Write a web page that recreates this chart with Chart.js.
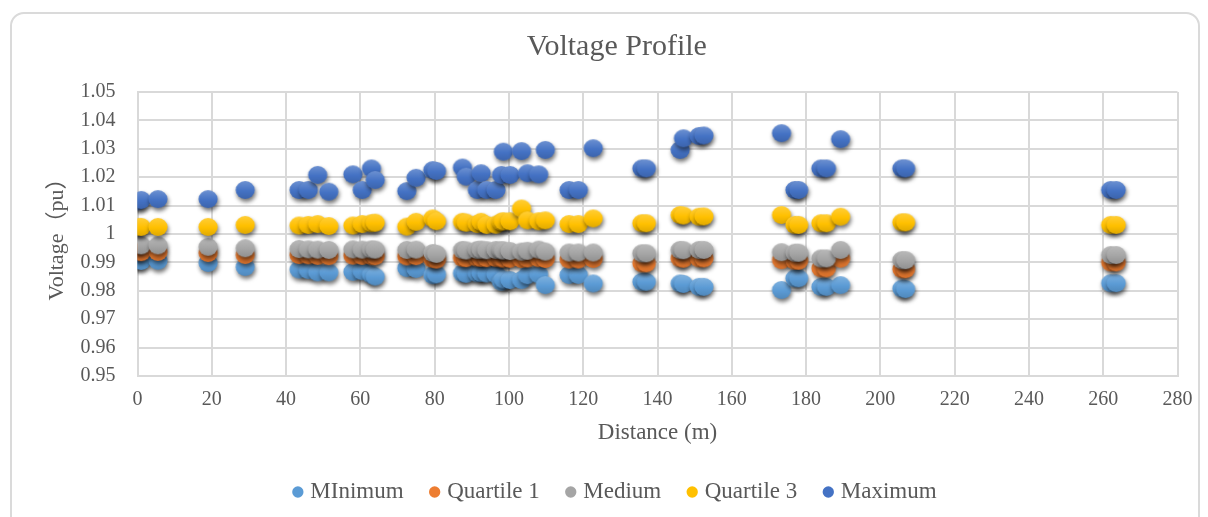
<!DOCTYPE html>
<html>
<head>
<meta charset="utf-8">
<script src="https://cdn.jsdelivr.net/npm/chart.js@4.4.1/dist/chart.umd.min.js"></script>
<style>
  html, body { margin: 0; padding: 0; background: #ffffff; width: 1208px; height: 517px; overflow: hidden; }
  #frame { position: absolute; left: 10px; top: 12px; width: 1190px; height: 540px; border: 2px solid #dadada; border-radius: 14px; box-sizing: border-box; }
  #wrap { position: absolute; left: 0; top: 0; width: 1208px; height: 517px; }
</style>
</head>
<body>
<div id="frame"></div>
<div id="wrap"><canvas id="chart" width="1208" height="517"></canvas></div>
<script>
// Bus distances from the feeder head (m)
const distance = [0, 1, 5.5, 19, 29, 43.5, 46, 48.5, 51.5, 58, 60.5, 63, 64, 72.5, 75, 79.5, 80.5,
  87.5, 88.5, 91.5, 92.5, 94, 96.5, 98, 98.5, 100.3, 103.4, 105, 108, 109.8, 116.2, 118.7, 122.7,
  135.8, 137, 146.1, 147, 151.2, 152.5, 173.4, 177, 178, 184, 185.5, 189.3, 205.8, 206.8, 262, 263.5];

// Voltage statistics per bus (pu)
const minimum = [0.9908, 0.9905, 0.9906, 0.9898, 0.9884, 0.9875, 0.9873, 0.9865, 0.9865, 0.9867, 0.9869, 0.9857, 0.985,
  0.988, 0.9877, 0.9855, 0.9858, 0.9862, 0.986, 0.9862, 0.9863, 0.9861, 0.9858, 0.9832, 0.984, 0.9838, 0.9838,
  0.9855, 0.9858, 0.982, 0.9856, 0.9856, 0.9826, 0.9832, 0.9832, 0.9826, 0.9824, 0.9814, 0.9814, 0.9803,
  0.9844, 0.9844, 0.9814, 0.9814, 0.982, 0.9808, 0.9806, 0.9827, 0.9827];

const quartile1 = [0.9938, 0.9936, 0.9937, 0.9933, 0.9926, 0.9926, 0.9925, 0.9923, 0.9922, 0.9924, 0.9923, 0.9923, 0.9922,
  0.9921, 0.9922, 0.9912, 0.991, 0.9916, 0.9915, 0.9917, 0.9916, 0.9915, 0.9916, 0.9914, 0.9914, 0.9913, 0.9912,
  0.9914, 0.9915, 0.9912, 0.991, 0.991, 0.9912, 0.9897, 0.9897, 0.9914, 0.9913, 0.9914, 0.9914, 0.9908,
  0.9906, 0.9906, 0.9879, 0.9879, 0.9913, 0.9876, 0.9876, 0.99, 0.99];

const medium = [0.9962, 0.996, 0.996, 0.9955, 0.995, 0.9947, 0.9946, 0.9945, 0.9944, 0.9946, 0.9945, 0.9946, 0.9945,
  0.9944, 0.9945, 0.9933, 0.993, 0.9944, 0.9942, 0.9944, 0.9945, 0.9943, 0.9944, 0.9943, 0.9942, 0.994, 0.9938,
  0.9941, 0.9945, 0.9938, 0.9935, 0.9935, 0.9935, 0.9932, 0.9932, 0.9944, 0.9943, 0.9944, 0.9944, 0.9936,
  0.9934, 0.9934, 0.9914, 0.9914, 0.9944, 0.9908, 0.9908, 0.9926, 0.9926];

const quartile3 = [1.0025, 1.0025, 1.0025, 1.0025, 1.0032, 1.003, 1.0032, 1.0035, 1.0028, 1.003, 1.0035, 1.0038, 1.004,
  1.0026, 1.0043, 1.0055, 1.0045, 1.0043, 1.004, 1.0035, 1.0043, 1.0032, 1.0033, 1.0043, 1.0045, 1.0045, 1.009,
  1.0048, 1.0045, 1.0048, 1.0035, 1.0035, 1.0055, 1.0038, 1.0038, 1.0067, 1.0065, 1.0061, 1.0062, 1.0067,
  1.0032, 1.0032, 1.0038, 1.0038, 1.0061, 1.0041, 1.0041, 1.0032, 1.0032];

const maximum = [1.0115, 1.012, 1.0123, 1.0123, 1.0155, 1.0155, 1.0155, 1.0208, 1.0149, 1.021, 1.0155, 1.0231, 1.019,
  1.0151, 1.0198, 1.0225, 1.0222, 1.0234, 1.0202, 1.0155, 1.0214, 1.0155, 1.0155, 1.0208, 1.029, 1.0208, 1.0292,
  1.0214, 1.021, 1.0296, 1.0155, 1.0155, 1.0302, 1.0231, 1.0231, 1.0296, 1.0337, 1.0345, 1.0347, 1.0355,
  1.0155, 1.0155, 1.0231, 1.0231, 1.0334, 1.0231, 1.0231, 1.0155, 1.0155];

const seriesNames = ['MInimum', 'Quartile 1', 'Medium', 'Quartile 3', 'Maximum'];
const seriesValues = [minimum, quartile1, medium, quartile3, maximum];
const seriesColors = ['#5B9BD5', '#ED7D31', '#A5A5A5', '#FFC000', '#4472C4'];

const xTickValues = [0, 20, 40, 60, 80, 100, 120, 140, 160, 180, 200, 220, 240, 260, 280];
const yTickValues = [0.95, 0.96, 0.97, 0.98, 0.99, 1, 1.01, 1.02, 1.03, 1.04, 1.05];

const FONT = "'Liberation Serif', 'Times New Roman', 'Noto Sans CJK SC', serif";
const TEXT = '#595959';
const GRID = '#d9d9d9';

function shade(hex, amt) {
  const n = parseInt(hex.slice(1), 16);
  let r = (n >> 16) & 255, g = (n >> 8) & 255, b = n & 255;
  const t = amt > 0 ? 255 : 0, p = Math.abs(amt);
  r = Math.round(r + (t - r) * p); g = Math.round(g + (t - g) * p); b = Math.round(b + (t - b) * p);
  return `rgb(${r},${g},${b})`;
}

// Glossy round marker with a soft drop shadow
function makeMarker(color) {
  const c = document.createElement('canvas');
  c.width = 34; c.height = 34;
  const g = c.getContext('2d');
  g.shadowColor = 'rgba(0,0,0,0.55)';
  g.shadowBlur = 4;
  g.shadowOffsetX = 1;
  g.shadowOffsetY = 3;
  const grad = g.createLinearGradient(0, 8, 0, 26);
  grad.addColorStop(0, shade(color, 0.22));
  grad.addColorStop(0.55, color);
  grad.addColorStop(1, shade(color, -0.12));
  g.fillStyle = grad;
  g.beginPath();
  g.ellipse(17, 17, 9.6, 8.9, 0, 0, Math.PI * 2);
  g.fill();
  return c;
}

const datasets = seriesNames.map((name, i) => ({
  label: name,
  data: distance.map((d, j) => ({ x: d, y: seriesValues[i][j] })),
  backgroundColor: seriesColors[i],
  borderColor: seriesColors[i],
  pointStyle: makeMarker(seriesColors[i]),
  pointRadius: 9,
  order: seriesNames.length - 1 - i
}));

new Chart(document.getElementById('chart'), {
  type: 'scatter',
  data: { datasets },
  options: {
    responsive: false,
    animation: false,
    devicePixelRatio: 1,
    layout: { padding: { left: 56, right: 30.5, top: 0, bottom: 3.5 } },
    plugins: {
      title: {
        display: true,
        text: 'Voltage Profile',
        color: TEXT,
        font: { family: FONT, size: 30, weight: 'normal' },
        padding: { top: 29, bottom: 27 }
      },
      legend: {
        position: 'bottom',
        labels: {
          usePointStyle: true,
          boxWidth: 2,
          boxHeight: 8,
          padding: 30,
          color: TEXT,
          font: { family: FONT, size: 23 },
          sort: (a, b) => a.datasetIndex - b.datasetIndex,
          generateLabels: (chart) =>
            Chart.defaults.plugins.legend.labels.generateLabels(chart).map((it) =>
              Object.assign(it, {
                pointStyle: 'circle',
                fillStyle: seriesColors[it.datasetIndex],
                strokeStyle: seriesColors[it.datasetIndex],
                lineWidth: 0
              }))
        }
      },
      tooltip: { enabled: false }
    },
    scales: {
      x: {
        type: 'linear',
        min: 0,
        max: 280,
        afterBuildTicks: (s) => { s.ticks = xTickValues.map((v) => ({ value: v })); },
        afterFit: (s) => { s.height = 74.5; },
        grid: { color: GRID, lineWidth: 2, drawTicks: false },
        border: { color: GRID, width: 2 },
        ticks: { color: TEXT, font: { family: FONT, size: 20 }, padding: 12, maxRotation: 0, autoSkip: false },
        title: {
          display: true,
          text: 'Distance (m)',
          color: TEXT,
          font: { family: FONT, size: 23 },
          padding: { top: 0, bottom: 3.7 }
        }
      },
      y: {
        type: 'linear',
        min: 0.95,
        max: 1.05,
        afterBuildTicks: (s) => { s.ticks = yTickValues.map((v) => ({ value: v })); },
        afterFit: (s) => { s.width = 81.5; },
        grid: { color: GRID, lineWidth: 2, drawTicks: false },
        border: { color: GRID, width: 2 },
        ticks: {
          color: TEXT,
          font: { family: FONT, size: 20 },
          padding: 22,
          autoSkip: false,
          callback: (v) => String(+Number(v).toFixed(2))
        },
        title: {
          display: true,
          text: 'Voltage（pu）',
          color: TEXT,
          font: { family: FONT, size: 22 },
          padding: { top: -12.2, bottom: 0 }
        }
      }
    }
  }
});
</script>
</body>
</html>
